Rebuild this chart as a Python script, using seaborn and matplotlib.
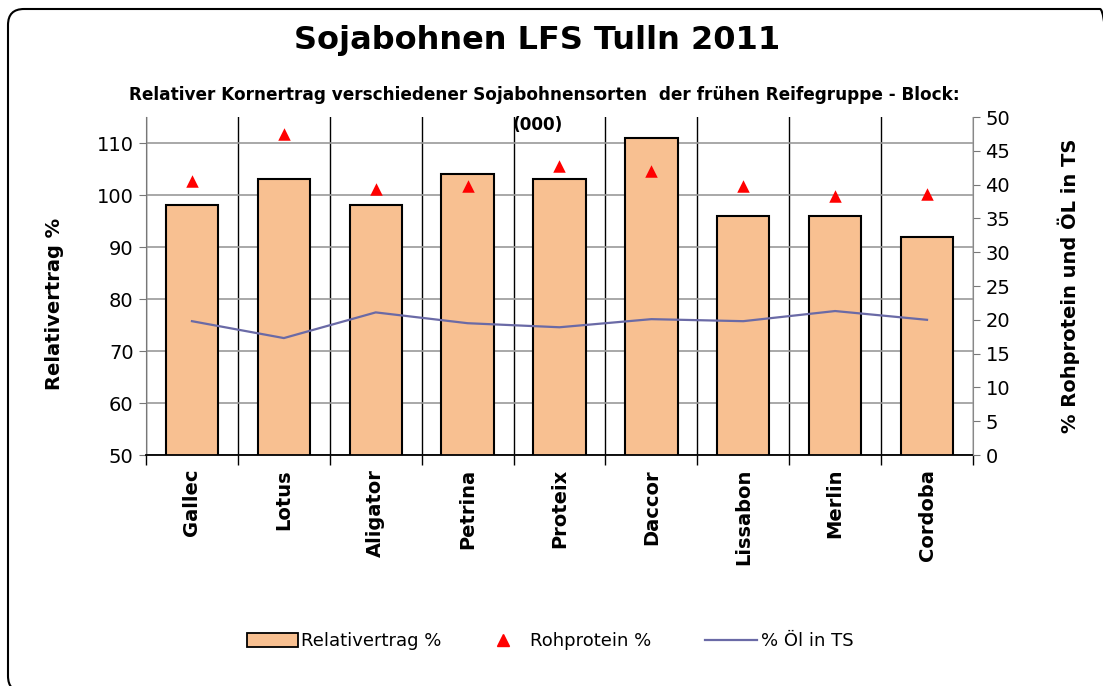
import numpy as np
import pandas as pd
import matplotlib
matplotlib.use("Agg")
import matplotlib.pyplot as plt
import seaborn as sns
from matplotlib.patches import FancyBboxPatch, Patch
from matplotlib.lines import Line2D
from matplotlib.transforms import IdentityTransform

# Data
sorten = ["Gallec", "Lotus", "Aligator", "Petrina", "Proteix",
          "Daccor", "Lissabon", "Merlin", "Cordoba"]
relativertrag = [98, 103, 98, 104, 103, 111, 96, 96, 92]
rohprotein = [40.5, 47.5, 39.3, 39.8, 42.8, 42.0, 39.8, 38.3, 38.6]
oel = [19.8, 17.3, 21.1, 19.5, 18.9, 20.1, 19.8, 21.3, 20.0]

df = pd.DataFrame({"Sorte": sorten, "Relativertrag": relativertrag,
                   "Rohprotein": rohprotein, "Oel": oel})

plt.rcParams["font.family"] = ["DejaVu Sans"]

bar_color = "#F8C091"
line_color = "#6A6AA6"

fig = plt.figure(figsize=(11.03, 6.86), dpi=100)
ax = fig.add_axes([0.1324, 0.3367, 0.7497, 0.4927])

sns.barplot(data=df, x="Sorte", y="Relativertrag", ax=ax, color=bar_color,
            edgecolor="black", linewidth=1.5, width=0.57, saturation=1)

ax2 = ax.twinx()
sns.pointplot(data=df, x="Sorte", y="Oel", ax=ax2, color=line_color,
              markers="", linestyles="-", errorbar=None, linewidth=1.6)
sns.stripplot(data=df, x="Sorte", y="Rohprotein", ax=ax2, color="red",
              marker="^", size=9, jitter=False, linewidth=0)

# left axis
ax.set_ylim(50, 115)
ax.set_yticks(range(50, 111, 10))
ax.set_xlim(-0.5, 8.5)
ax.set_xticks(range(len(sorten)))
ax.set_xticklabels(sorten, rotation=90, fontsize=14, fontweight="bold")
ax.set_xticks(np.arange(-0.5, 9, 1), minor=True)
ax.tick_params(axis="x", which="major", length=0, pad=10)
ax.tick_params(axis="x", which="minor", length=7, color="black", width=1)
ax.tick_params(axis="y", length=5, color="#777777", labelsize=14, pad=4)
ax.set_xlabel("")
ax.set_ylabel("")
ax.grid(axis="y", color="#999999", linewidth=1.2)
ax.grid(axis="x", which="minor", color="black", linewidth=1)
ax.set_axisbelow(True)
for s in ["top", "right"]:
    ax.spines[s].set_visible(False)
ax.spines["left"].set_color("#777777")
ax.spines["bottom"].set_color("black")
ax.spines["bottom"].set_linewidth(1.3)

# right axis
ax2.set_ylim(0, 50)
ax2.set_yticks(range(0, 51, 5))
ax2.set_xlim(-0.5, 8.5)
ax2.tick_params(axis="y", length=5, color="#777777", labelsize=14, pad=4)
ax2.set_ylabel("")
for s in ["top", "left", "bottom"]:
    ax2.spines[s].set_visible(False)
ax2.spines["right"].set_color("#888888")

# texts
fig.text(537 / 1103, 1 - 40 / 686, "Sojabohnen LFS Tulln 2011",
         ha="center", va="center", fontsize=23, fontweight="bold")
fig.text(544 / 1103, 1 - 95 / 686,
         "Relativer Kornertrag verschiedener Sojabohnensorten  der frühen Reifegruppe - Block:",
         ha="center", va="center", fontsize=12.2, fontweight="bold")
fig.text(538 / 1103, 1 - 125 / 686, "(000)",
         ha="center", va="center", fontsize=12.2, fontweight="bold")
fig.text(55 / 1103, 1 - 304 / 686, "Relativertrag %", rotation=90,
         ha="center", va="center", fontsize=14, fontweight="bold")
fig.text(1069 / 1103, 1 - 286 / 686, "% Rohprotein und ÖL in TS", rotation=90,
         ha="center", va="center", fontsize=14, fontweight="bold")

# legend, one entry each so the spacing can follow the original
leg_y = 1 - 641 / 686
fig.legend(handles=[Patch(facecolor=bar_color, edgecolor="black", linewidth=1.3)],
           labels=["Relativertrag %"], loc="center left",
           bbox_to_anchor=(247 / 1103, leg_y), frameon=False, fontsize=13,
           handlelength=2.8, handleheight=0.8, handletextpad=0.2,
           borderpad=0, borderaxespad=0)
fig.legend(handles=[Line2D([], [], marker="^", color="red", linestyle="",
                           markersize=8)],
           labels=["Rohprotein %"], loc="center left",
           bbox_to_anchor=(494 / 1103, leg_y), frameon=False, fontsize=13,
           handlelength=1.0, handletextpad=1.0, borderpad=0, borderaxespad=0)
fig.legend(handles=[Line2D([], [], color=line_color, linewidth=1.6)],
           labels=["% Öl in TS"], loc="center left",
           bbox_to_anchor=(705 / 1103, leg_y), frameon=False, fontsize=13,
           handlelength=2.9, handletextpad=0.2, borderpad=0, borderaxespad=0)

# rounded frame around the chart
frame = FancyBboxPatch((8, -6), 1108, 683,
                       boxstyle="round,pad=0,rounding_size=16",
                       facecolor="none", edgecolor="black", linewidth=1.5,
                       transform=IdentityTransform())
fig.add_artist(frame)

fig.savefig("out.png", dpi=100)
